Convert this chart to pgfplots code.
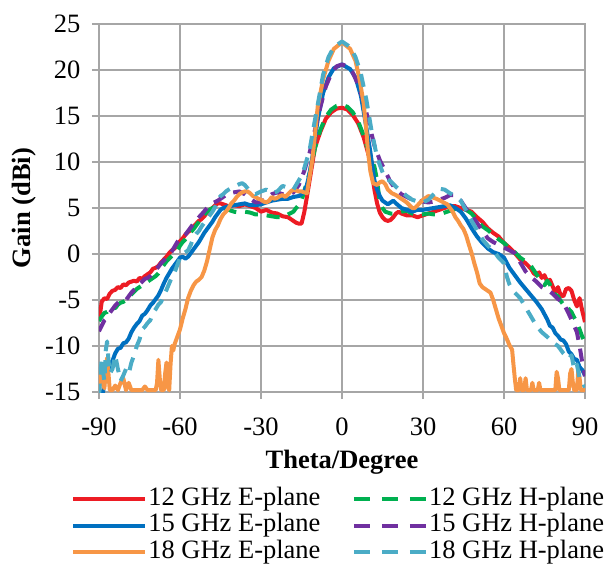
\documentclass[border=0pt]{standalone}
\usepackage{fontspec}
\setmainfont{Liberation Serif}
\usepackage{pgfplots}
\pgfplotsset{compat=1.18}
\definecolor{c12e}{RGB}{237,28,36}
\definecolor{c12h}{RGB}{0,176,80}
\definecolor{c15e}{RGB}{0,112,192}
\definecolor{c15h}{RGB}{112,48,160}
\definecolor{c18e}{RGB}{247,150,70}
\definecolor{c18h}{RGB}{75,172,198}
\definecolor{gridgray}{RGB}{166,166,166}
\newcommand{\bigfont}{\fontsize{26.5bp}{28bp}\selectfont}
\begin{document}
\begin{tikzpicture}
\begin{axis}[
    name=ax,
    scale only axis,
    width=486bp, height=368bp,
    xmin=-90, xmax=90,
    ymin=-15, ymax=25,
    xtick={-90,-60,...,90},
    xticklabels={-90,-60,-30,0,30,60,90},
    ytick={-15,-10,...,25},
    yticklabels={-15,-10,-5,0,5,10,15,20,25},
    grid=major,
    grid style={gridgray, line width=1.5bp},
    axis line style={gridgray, line width=1.5bp},
    tick style={gridgray, line width=1.5bp},
    tick align=outside,
    major tick length=7bp,
    xtick pos=bottom, ytick pos=left,
    every tick label/.append style={font=\bigfont},
    xticklabel style={yshift=-15bp},
    yticklabel style={xshift=-8bp},
    xlabel={Theta/Degree},
    ylabel={Gain (dBi)},
    label style={font=\bigfont\bfseries},
    x label style={at={(axis description cs:0.5,-0.19)}, anchor=center},
    y label style={at={(axis description cs:-0.155,0.5)}, anchor=center},
    legend columns=2,
    legend cell align=left,
    legend image code/.code={\draw[#1] (0bp,0bp) -- (72bp,0bp);},
    legend style={at={(axis description cs:-0.064,-0.25)}, anchor=north west,
        draw=none, fill=none, font=\bigfont,
        /tikz/every even column/.append style={column sep=30bp},
        nodes={inner sep=1.25bp, text height=18bp, text depth=6bp}},
    every axis plot/.append style={line width=4bp, line join=round},
]
% 12 GHz E-plane
\addplot[c12e] coordinates {
(-90,-7.2) (-89.5,-6.3) (-89,-5.2) (-88,-4.8) (-87,-4.9) (-86,-4.3) (-85,-4.0) (-84,-3.9)
(-83,-3.6) (-82,-3.7) (-81,-3.3) (-80,-3.4) (-79,-3.1) (-78,-3.0) (-77,-2.9) (-76,-3.0)
(-75,-2.6) (-74,-2.7) (-73,-2.4) (-72,-2.2) (-71,-2.0) (-70,-1.6) (-69,-1.5) (-68,-1.3)
(-67,-0.9) (-66,-0.6) (-65,-0.3) (-64,0.1) (-63,0.4) (-62,0.6) (-61,1.0) (-60,1.4)
(-59,1.7) (-58,2.1) (-57,2.4) (-56,2.6) (-55,3.0) (-54,3.3) (-53,3.6) (-52,3.8)
(-51,4.1) (-50,4.5) (-49,4.8) (-48,5.0) (-47,5.3) (-46,5.5) (-45,5.5) (-44,5.4)
(-42,5.2) (-40,5.3) (-38,5.2) (-36,5.4) (-34,5.2) (-32,5.0) (-30,4.6) (-28,4.8)
(-26,4.5) (-24,4.4) (-22,4.1) (-20,4.0) (-19,3.8) (-18,3.6) (-17,3.4) (-16,3.3)
(-15,3.3) (-14,4.5) (-13,6.2) (-12,8.0) (-10,11.6) (-8,13.3) (-6,14.7) (-4,15.4)
(-2,15.8) (0,15.9) (2,15.7) (4,15.1) (6,14.2) (8,12.7) (10,10.6) (11,9.0)
(12,7.0) (13,5.5) (14,4.5) (15,4.0) (16,3.7) (17,3.6) (18,3.7) (19,4.0)
(20,4.4) (21,4.6) (22,4.4) (24,4.2) (26,4.2) (28,4.0) (30,4.2) (32,4.4)
(34,4.6) (36,4.8) (38,5.0) (40,5.2) (42,5.2) (44,5.0) (46,4.8) (48,4.6)
(50,4.0) (52,3.5) (54,2.8) (56,2.3) (58,1.9) (60,1.2) (62,0.7) (64,0.1)
(66,-0.6) (68,-1.0) (70,-1.6) (71,-2.1) (72,-2.3) (73,-2.0) (74,-2.6) (75,-2.3)
(76,-3.0) (77,-2.8) (78,-3.5) (79,-4.2) (80,-3.6) (81,-4.5) (82,-4.6) (83,-3.8)
(84,-3.7) (85,-4.0) (86,-5.0) (87,-5.7) (88,-4.8) (89,-6.2) (90,-7.4)
};
\addlegendentry{12 GHz E-plane}
% 12 GHz H-plane
\addplot[c12h, dash pattern=on 13bp off 9bp, legend image post style={dash pattern=on 16bp off 12bp}] coordinates {
(-90,-7.3) (-89,-6.8) (-88,-6.4) (-87,-6.3) (-86,-6.0) (-85,-5.8) (-84,-5.9) (-83,-5.5)
(-82,-5.3) (-81,-5.2) (-80,-5.0) (-79,-4.6) (-78,-4.4) (-77,-4.1) (-76,-3.8) (-75,-3.6)
(-74,-3.4) (-73,-3.2) (-72,-3.0) (-71,-2.8) (-70,-2.6) (-69,-2.4) (-68,-2.1) (-67,-1.6)
(-66,-1.2) (-65,-0.8) (-64,-0.5) (-63,-0.2) (-62,0.1) (-61,0.4) (-60,0.9) (-59,1.3)
(-58,1.6) (-57,2.0) (-56,2.4) (-55,2.7) (-54,3.1) (-53,3.5) (-52,4.0) (-51,4.3)
(-50,4.6) (-48,5.0) (-46,5.1) (-44,5.0) (-42,4.8) (-40,4.6) (-38,4.5) (-36,4.6)
(-34,4.5) (-32,4.3) (-30,4.3) (-28,4.2) (-26,4.1) (-24,4.0) (-22,4.0) (-20,4.3)
(-18,4.6) (-17,5.0) (-16,5.3) (-15,5.8) (-14,6.8) (-12,8.8) (-10,11.5) (-8,13.5)
(-6,14.9) (-4,15.7) (-2,16.1) (0,16.2) (2,16.0) (4,15.4) (6,14.4) (8,12.9)
(10,11.0) (11,10.2) (12,9.5) (13,8.0) (14,5.6) (15,5.0) (16,4.6) (18,4.4)
(20,4.4) (22,4.6) (24,4.7) (26,4.4) (28,4.2) (30,4.3) (32,4.4) (34,4.3)
(36,4.3) (38,4.5) (40,4.7) (42,4.9) (44,5.0) (46,4.8) (48,4.4) (50,3.7)
(52,3.0) (54,2.6) (56,2.1) (58,1.6) (60,1.2) (62,0.6) (64,0.2) (66,-0.4)
(68,-0.8) (70,-1.3) (72,-2.2) (74,-3.0) (75,-3.4) (76,-2.9) (77,-3.3) (78,-4.2)
(80,-4.6) (81,-5.1) (82,-5.5) (83,-5.4) (84,-6.0) (85,-6.3) (86,-6.9) (87,-7.4)
(88,-8.2) (89,-9.0) (90,-9.6)
};
\addlegendentry{12 GHz H-plane}
% 15 GHz E-plane
\addplot[c15e] coordinates {
(-90,-17) (-88.5,-15) (-88,-14) (-87,-13.2) (-86,-12.0) (-85,-11.6) (-84,-10.8) (-83,-10.3)
(-82,-10.2) (-81,-9.7) (-80,-9.6) (-79,-9.2) (-78,-8.5) (-77,-8.0) (-76,-7.6) (-75,-7.3)
(-74,-6.7) (-73,-6.5) (-72,-6.1) (-71,-5.6) (-70,-5.3) (-69,-4.9) (-68,-4.5) (-67,-3.9)
(-66,-3.2) (-65,-2.6) (-64,-2.1) (-63,-1.6) (-62,-1.2) (-61,-0.8) (-60,-0.4) (-59,-0.3)
(-58,-0.5) (-57,-0.3) (-56,0.1) (-55,0.5) (-54,0.9) (-53,1.3) (-52,1.8) (-51,2.3)
(-50,2.7) (-49,3.1) (-48,3.5) (-47,4.0) (-46,4.4) (-45,4.8) (-44,5.0) (-42,5.2)
(-40,5.3) (-38,5.4) (-36,5.5) (-34,5.3) (-32,5.3) (-30,5.4) (-28,5.6) (-26,5.8)
(-24,5.9) (-22,6.0) (-20,6.0) (-18,6.2) (-16,6.3) (-15,6.5) (-14,6.8) (-13,7.5)
(-12,8.8) (-11,10.5) (-9,14.6) (-7,17.5) (-5,19.2) (-3,20.2) (0,20.6) (3,20.1)
(5,19.2) (7,17.2) (9,13.8) (10.4,11.3) (12,8.0) (13,7.0) (14,6.3) (15,5.8)
(16,5.6) (17,5.4) (18,5.6) (19,5.8) (20,5.5) (22,5.0) (24,4.8) (26,4.6)
(28,4.8) (30,4.8) (32,4.9) (34,5.0) (36,5.1) (38,5.2) (40,5.3) (42,5.0)
(44,4.6) (46,3.8) (48,2.8) (50,1.9) (52,1.2) (54,0.6) (56,0.2) (58,0.0)
(60,-0.4) (62,-1.5) (64,-2.3) (66,-3.1) (68,-3.8) (70,-4.5) (72,-5.2) (74,-6.0)
(76,-7.1) (77,-7.8) (78,-8.0) (79,-8.6) (80,-8.9) (81,-9.3) (82,-9.4) (83,-9.8)
(84,-10.6) (85,-10.9) (86,-11.4) (87,-11.5) (88,-12.3) (89,-12.6) (90,-13.2)
};
\addlegendentry{15 GHz E-plane}
% 15 GHz H-plane
\addplot[c15h, dash pattern=on 13bp off 9bp, legend image post style={dash pattern=on 16bp off 12bp}] coordinates {
(-90,-8.4) (-89,-7.8) (-88,-7.2) (-87,-6.9) (-86,-6.4) (-85,-6.0) (-84,-5.6) (-83,-5.3)
(-82,-5.1) (-81,-5.0) (-80,-5.0) (-79,-4.6) (-78,-4.2) (-77,-3.9) (-76,-3.7) (-75,-3.3)
(-74,-3.0) (-73,-2.7) (-72,-2.6) (-71,-2.4) (-70,-2.0) (-69,-1.7) (-68,-1.4) (-67,-1.0)
(-66,-0.7) (-65,-0.4) (-64,-0.1) (-63,0.3) (-62,0.8) (-61,1.3) (-60,1.7) (-59,1.9)
(-58,2.1) (-57,2.5) (-56,2.9) (-55,3.3) (-54,3.7) (-52,4.3) (-50,5.0) (-48,5.5)
(-46,5.8) (-44,6.2) (-42,6.6) (-40,6.7) (-38,6.8) (-36,6.5) (-34,6.0) (-32,5.6)
(-30,5.7) (-28,6.0) (-26,6.5) (-24,6.7) (-22,6.5) (-20,6.4) (-18,6.7) (-16,7.5)
(-14,9.0) (-12,11.0) (-10,13.5) (-8,16.0) (-6,18.2) (-4,19.6) (-2,20.4) (0,20.6)
(2,20.4) (4,19.7) (6,18.4) (8,16.6) (10,14.2) (12,11.8) (14,10.2) (16,9.0)
(18,7.8) (20,7.0) (22,6.5) (24,6.2) (26,5.9) (28,5.8) (30,5.7) (32,5.6)
(34,5.7) (36,5.9) (38,6.1) (40,6.4) (42,6.4) (44,5.8) (46,4.9) (48,4.2)
(50,3.4) (52,2.5) (54,1.7) (56,1.3) (58,1.0) (60,0.7) (62,0.4) (64,0.1)
(66,-0.9) (68,-1.9) (70,-2.5) (72,-3.0) (74,-3.6) (76,-3.9) (78,-4.3) (80,-4.9)
(82,-5.3) (84,-6.5) (86,-7.8) (87,-8.5) (88,-10.0) (89,-11.8) (90,-13.3)
};
\addlegendentry{15 GHz H-plane}
% 18 GHz E-plane
\addplot[c18e] coordinates {
(-90,-14.8) (-89.5,-13.0) (-89,-12.5) (-88.5,-14.0) (-88,-14.6) (-87.5,-12.5) (-87,-11.3) (-86.5,-13.0)
(-86,-14.8) (-85,-14.8) (-84,-14.3) (-83,-14.8) (-82,-14.0) (-81,-13.5) (-80,-14.8) (-79,-14.0)
(-78,-14.8) (-74,-14.8) (-73,-14.4) (-72,-14.8) (-69,-14.8) (-68.5,-14.0) (-68,-11.5) (-67.5,-13.5)
(-67,-14.8) (-66,-14.8) (-65.5,-13.0) (-65,-11.8) (-64.5,-14.5) (-64,-14.8) (-63.5,-12.0) (-63,-10.0)
(-62.5,-10.5) (-62,-9.8) (-61,-9.0) (-60,-8.2) (-59,-7.0) (-58,-6.0) (-57,-4.8) (-56,-4.0)
(-55,-3.4) (-54,-3.0) (-53,-2.8) (-52,-2.5) (-51,-1.8) (-50,-0.8) (-49,0.5) (-48,1.8)
(-47,2.6) (-46,3.1) (-45,3.8) (-44,4.3) (-43,4.6) (-42,5.0) (-41,5.5) (-40,5.8)
(-39,6.2) (-38,6.5) (-37,6.7) (-36,6.8) (-35,6.8) (-34,6.6) (-33,6.3) (-32,6.2)
(-31,6.0) (-30,5.9) (-29,5.7) (-28,5.6) (-27,5.8) (-26,6.2) (-25,6.0) (-24,6.1)
(-23,6.3) (-22,6.4) (-21,6.2) (-20,6.5) (-19,6.8) (-18,7.0) (-17,6.9) (-16,6.8)
(-15,6.8) (-14,6.7) (-13,6.6) (-12.5,7.5) (-11,10.2) (-10,13.0) (-9,16.0) (-7,19.0)
(-5,21.0) (-3,22.3) (0,23.0) (3,22.3) (5,21.0) (6.5,19.0) (8,16.4) (9,13.5)
(9.6,11.2) (10.5,9.0) (11.5,7.7) (13,7.5) (14,7.8) (15,7.9) (16,7.6) (17,7.0)
(18.5,6.6) (20,6.4) (21,6.2) (22,6.0) (24,5.6) (26,5.0) (27,5.0) (28,5.3)
(30,5.9) (32,6.3) (33,6.2) (35,6.0) (37,5.7) (39,5.4) (41,4.6) (42,4.0)
(43,3.6) (44,3.1) (45,2.7) (46,2.0) (47,1.0) (48,0.1) (49,-1.0) (50,-2.0)
(51,-3.2) (52,-3.6) (53,-3.8) (54,-4.0) (55,-4.2) (56,-5.0) (57,-6.0) (58,-7.0)
(59,-7.8) (60,-8.6) (61,-9.2) (62,-9.9) (63,-10.4) (63.5,-12.0) (64,-13.5) (64.5,-14.8)
(65.5,-14.8) (66,-13.5) (66.5,-14.8) (67.5,-14.8) (68,-13.5) (68.5,-14.8) (70,-14.8) (70.5,-14.0)
(71,-14.8) (72.5,-14.8) (73,-14.0) (73.5,-14.8) (79,-14.8) (79.5,-12.8) (80,-13.5) (80.5,-14.8)
(84,-14.8) (84.5,-13.0) (85,-12.5) (85.5,-14.0) (86,-14.8) (87,-14.8) (87.5,-12.7) (88,-13.5)
(88.5,-14.8) (90,-14.8)
};
\addlegendentry{18 GHz E-plane}
% 18 GHz H-plane
\addplot[c18h, dash pattern=on 13bp off 9bp, legend image post style={dash pattern=on 16bp off 12bp}] coordinates {
(-90,-15.5) (-89.5,-13) (-89,-11.5) (-88.5,-12.8) (-88,-13.8) (-87.5,-10.5) (-87,-9.5) (-86.5,-11.5)
(-86,-13) (-85,-12.5) (-84,-11.0) (-83,-12.5) (-82,-13.8) (-81,-13.2) (-80,-12.5) (-79,-13.0)
(-78,-11.8) (-77,-11.0) (-76,-10.0) (-75,-9.3) (-74,-8.2) (-73,-7.9) (-72,-7.5) (-71,-7.2)
(-70,-6.4) (-69,-6.0) (-68,-5.5) (-67,-5.2) (-66,-4.5) (-65,-3.9) (-64,-3.2) (-63,-2.5)
(-62,-2.0) (-61,-1.2) (-60,-0.4) (-59,0.0) (-58,0.2) (-57,0.4) (-56,1.0) (-55,1.8)
(-54,2.2) (-53,2.5) (-52,3.0) (-51,3.4) (-50,3.8) (-49,4.2) (-48,4.6) (-47,5.1)
(-46,5.8) (-45,6.3) (-44,6.5) (-43,6.8) (-42,7.0) (-40,7.3) (-38,7.6) (-37,7.7)
(-36,7.5) (-34,6.8) (-32,6.5) (-30,6.8) (-28,7.0) (-26,6.6) (-24,6.8) (-22,7.4)
(-20,7.2) (-18,7.0) (-16,8.0) (-15,8.5) (-14,9.3) (-13,10.3) (-12,11.3) (-11,13.0)
(-9,16.2) (-7,19.5) (-5,21.4) (-3,22.5) (0,23.1) (3,22.5) (5,21.4) (7,19.6)
(9,16.8) (11,13.3) (13,10.5) (15,8.9) (16,8.3) (18,7.9) (20,7.3) (22,6.8)
(24,6.3) (26,5.9) (28,5.7) (30,5.6) (32,5.9) (34,6.5) (36,7.1) (38,7.0)
(40,6.6) (42,6.3) (44,5.8) (46,4.7) (48,3.6) (50,2.6) (52,1.6) (54,0.9)
(56,0.4) (58,-0.4) (60,-1.0) (61,-2.4) (62,-3.3) (63,-3.8) (64,-4.2) (66,-4.8)
(68,-5.8) (70,-6.8) (72,-7.8) (74,-8.5) (76,-9.0) (78,-9.6) (80,-10.0) (82,-10.8)
(84,-11.4) (85,-11.0) (86,-12.5) (87,-12.0) (88,-13.5) (89,-13.8) (90,-14.5)
};
\addlegendentry{18 GHz H-plane}
\end{axis}
\pgfresetboundingbox
\path[use as bounding box] ([xshift=-99bp,yshift=-174bp]ax.south west) rectangle ([xshift=24bp,yshift=24bp]ax.north east);
\end{tikzpicture}
\end{document}
